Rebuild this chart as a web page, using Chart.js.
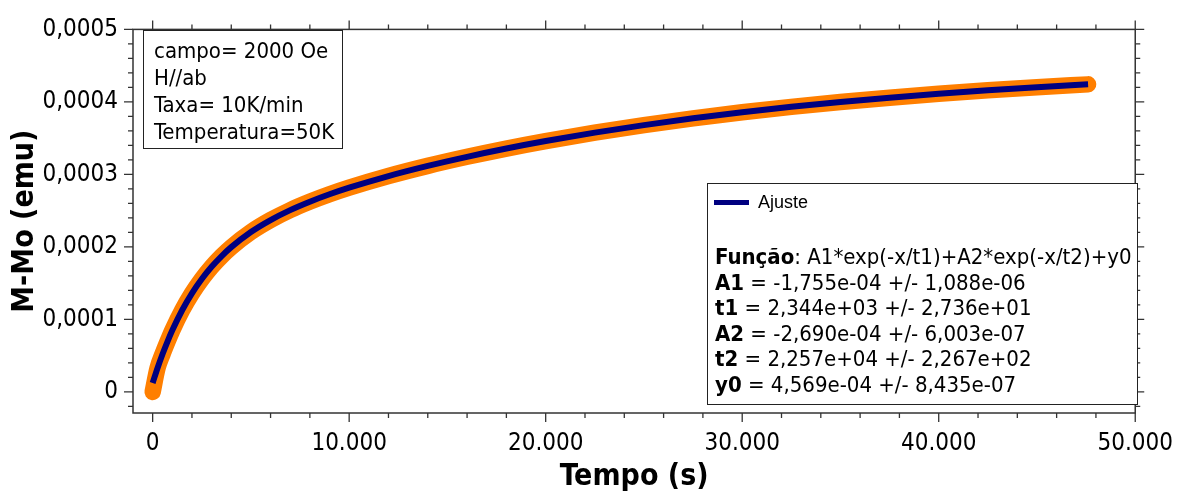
<!DOCTYPE html>
<html>
<head>
<meta charset="utf-8">
<script src="https://cdn.jsdelivr.net/npm/chart.js@4.4.1/dist/chart.umd.min.js"></script>
<style>
html, body { margin: 0; padding: 0; background: #fff; }
#chart { display: block; }
</style>
</head>
<body>
<canvas id="chart" width="1189" height="495"></canvas>
<script>
// Tempo (s)
var tempo = [0, 250, 500, 750, 1000, 1500, 2000, 2500, 3000, 3500, 4000, 5000, 6000, 7000, 8000, 9000,
    10000, 12000, 14000, 16000, 18000, 20000, 22500, 25000, 27500, 30000, 32500, 35000, 37500,
    40000, 42500, 45000, 47600];

// M-Mo (emu), pontos medidos
var medidas = [0, 3.3e-5, 5.2e-5, 6.9e-5, 8.5e-5, 1.127e-4, 1.36e-4, 1.557e-4, 1.726e-4, 1.871e-4, 1.997e-4,
    2.206e-4, 2.371e-4, 2.508e-4, 2.624e-4, 2.726e-4, 2.817e-4, 2.978e-4, 3.118e-4, 3.243e-4, 3.357e-4,
    3.46e-4, 3.576e-4, 3.68e-4, 3.774e-4, 3.857e-4, 3.932e-4, 3.998e-4, 4.058e-4, 4.112e-4, 4.16e-4,
    4.203e-4, 4.242e-4];

// curva de ajuste
var ajuste = [1.24e-5, 3.31e-5, 5.2e-5, 6.92e-5, 8.5e-5, 1.127e-4, 1.36e-4, 1.557e-4, 1.726e-4, 1.871e-4, 1.997e-4,
    2.206e-4, 2.371e-4, 2.508e-4, 2.624e-4, 2.726e-4, 2.817e-4, 2.978e-4, 3.118e-4, 3.243e-4, 3.357e-4,
    3.46e-4, 3.576e-4, 3.68e-4, 3.774e-4, 3.857e-4, 3.932e-4, 3.998e-4, 4.058e-4, 4.112e-4, 4.16e-4,
    4.203e-4, 4.242e-4];

var xTicks = [0, 10000, 20000, 30000, 40000, 50000];
var xTickLabels = ['0', '10.000', '20.000', '30.000', '40.000', '50.000'];
var yTicks = [0, 0.0001, 0.0002, 0.0003, 0.0004, 0.0005];
var yTickLabels = ['0', '0,0001', '0,0002', '0,0003', '0,0004', '0,0005'];

var infoLines = ['campo= 2000 Oe', 'H//ab', 'Taxa= 10K/min', 'Temperatura=50K'];
var fitLines = [
    ['Função', ': A1*exp(-x/t1)+A2*exp(-x/t2)+y0'],
    ['A1', ' = -1,755e-04 +/- 1,088e-06'],
    ['t1', ' = 2,344e+03 +/- 2,736e+01'],
    ['A2', ' = -2,690e-04 +/- 6,003e-07'],
    ['t2', ' = 2,257e+04 +/- 2,267e+02'],
    ['y0', ' = 4,569e-04 +/- 8,435e-07']
];

var FONT = "'DejaVu Sans Condensed', 'DejaVu Sans', sans-serif";
var ORANGE = '#FF7F00';
var NAVY = '#000080';

function toPoints(xs, ys) {
    return xs.map(function (x, i) { return { x: x, y: ys[i] }; });
}

// frame, ticks on all four sides, info boxes
var decorPlugin = {
    id: 'decor',
    afterDraw: function (chart) {
        var ctx = chart.ctx;
        var a = chart.chartArea;
        var xs = chart.scales.x;
        var ys = chart.scales.y;
        ctx.save();

        ctx.strokeStyle = '#333';
        ctx.lineWidth = 1.5;
        ctx.strokeRect(a.left, a.top, a.right - a.left, a.bottom - a.top);

        ctx.lineWidth = 1.3;
        ctx.beginPath();
        for (var k = 0; k <= 25; k++) {
            var px = xs.getPixelForValue(k * 2000);
            var len = k % 5 === 0 ? 9 : 5;
            ctx.moveTo(px, a.bottom); ctx.lineTo(px, a.bottom + len);
            ctx.moveTo(px, a.top); ctx.lineTo(px, a.top - len);
        }
        for (var j = -1; j <= 25; j++) {
            var py = ys.getPixelForValue(j * 0.00002);
            var l = j % 5 === 0 ? 9 : 5;
            ctx.moveTo(a.left, py); ctx.lineTo(a.left - l, py);
            ctx.moveTo(a.right, py); ctx.lineTo(a.right + l, py);
        }
        ctx.stroke();

        // caixa de condições
        ctx.fillStyle = '#fff';
        ctx.fillRect(143.5, 30.5, 199, 118);
        ctx.strokeStyle = '#222';
        ctx.lineWidth = 1;
        ctx.strokeRect(143.5, 30.5, 199, 118);
        ctx.fillStyle = '#000';
        ctx.textBaseline = 'alphabetic';
        ctx.font = '22px ' + FONT;
        infoLines.forEach(function (t, i) {
            ctx.fillText(t, 154, 57.5 + i * 27);
        });

        // caixa do ajuste
        ctx.fillStyle = '#fff';
        ctx.fillRect(707.5, 183.5, 430, 221);
        ctx.strokeRect(707.5, 183.5, 430, 221);
        ctx.strokeStyle = NAVY;
        ctx.lineWidth = 5;
        ctx.beginPath();
        ctx.moveTo(714, 202.5); ctx.lineTo(749, 202.5);
        ctx.stroke();
        ctx.fillStyle = '#000';
        ctx.font = "18px 'Liberation Sans', Arial, sans-serif";
        ctx.fillText(chart.data.datasets[0].label, 758, 207.5);

        fitLines.forEach(function (parts, i) {
            var y = 264 + i * 25.6;
            ctx.font = 'bold 22px ' + FONT;
            ctx.fillText(parts[0], 715, y);
            var w = ctx.measureText(parts[0]).width;
            ctx.font = '22px ' + FONT;
            ctx.fillText(parts[1], 715 + w, y);
        });

        ctx.restore();
    }
};

new Chart(document.getElementById('chart').getContext('2d'), {
    type: 'line',
    data: {
        datasets: [{
            label: 'Ajuste',
            data: toPoints(tempo, ajuste),
            borderColor: NAVY,
            borderWidth: 6,
            borderCapStyle: 'butt',
            pointRadius: 0,
            cubicInterpolationMode: 'monotone',
            fill: false
        }, {
            label: 'M-Mo',
            data: toPoints(tempo, medidas),
            borderColor: ORANGE,
            borderWidth: 16.5,
            borderCapStyle: 'round',
            borderJoinStyle: 'round',
            pointRadius: 0,
            cubicInterpolationMode: 'monotone',
            fill: false
        }]
    },
    options: {
        responsive: false,
        animation: false,
        devicePixelRatio: 1,
        layout: { padding: { top: 21, right: 48, left: 0, bottom: 0 } },
        plugins: { legend: { display: false }, tooltip: { enabled: false } },
        scales: {
            x: {
                type: 'linear',
                min: -1000,
                max: 50000,
                afterBuildTicks: function (s) { s.ticks = xTicks.map(function (v) { return { value: v }; }); },
                afterFit: function (s) { s.height = 82; },
                grid: { display: false, drawTicks: false },
                border: { display: false },
                ticks: {
                    padding: 16,
                    maxRotation: 0,
                    autoSkip: false,
                    color: '#000',
                    font: { family: FONT, size: 24 },
                    callback: function (v, i) { return xTickLabels[i]; }
                },
                title: {
                    display: true,
                    text: 'Tempo (s)',
                    color: '#000',
                    padding: { top: 0, bottom: 0 },
                    font: { family: FONT, size: 30, weight: 'bold' }
                }
            },
            y: {
                min: -0.000029,
                max: 0.0005,
                afterBuildTicks: function (s) { s.ticks = yTicks.map(function (v) { return { value: v }; }); },
                afterFit: function (s) { s.width = 133; },
                grid: { display: false, drawTicks: false },
                border: { display: false },
                ticks: {
                    padding: 15,
                    autoSkip: false,
                    color: '#000',
                    font: { family: FONT, size: 24 },
                    callback: function (v, i) { return yTickLabels[i]; }
                },
                title: {
                    display: true,
                    text: 'M-Mo (emu)',
                    color: '#000',
                    padding: { top: 7, bottom: 0 },
                    font: { family: FONT, size: 30, weight: 'bold' }
                }
            }
        }
    },
    plugins: [decorPlugin]
});
</script>
</body>
</html>
